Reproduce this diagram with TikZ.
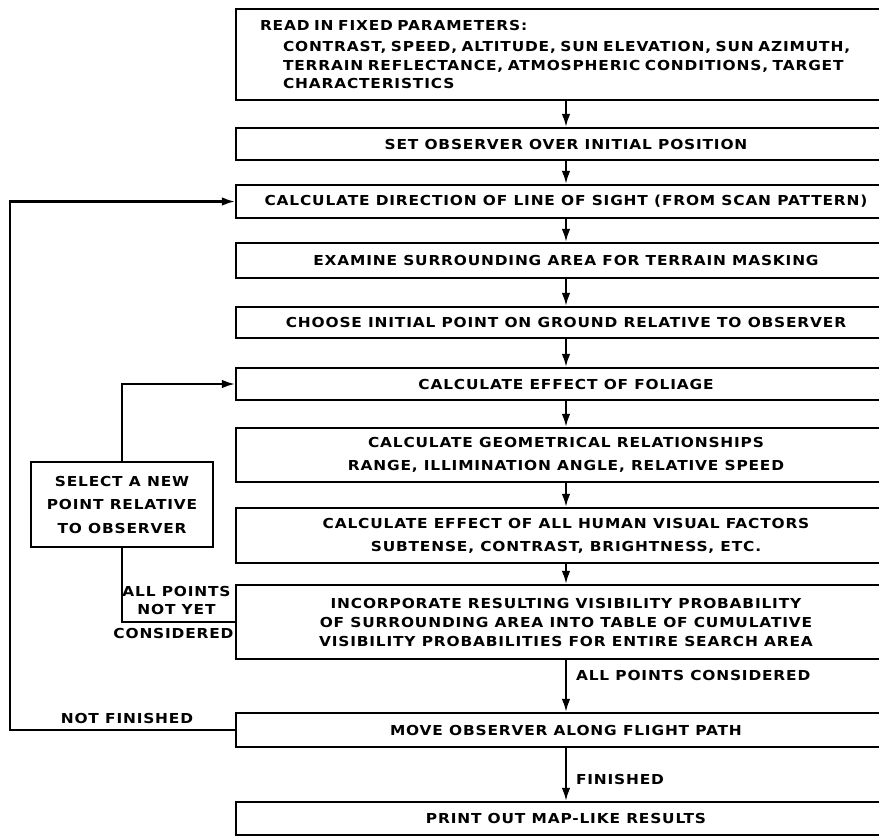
\documentclass[tikz,border=0pt]{standalone}
\usepackage{fontspec}
\setmainfont{DejaVu Sans}[LetterSpace=6,FakeStretch=1.12]
\usetikzlibrary{positioning,arrows.meta}

\tikzset{
  stage/.style={draw, line width=2.1pt, minimum width=660pt, align=center,
    inner sep=0pt, font=\bfseries\fontsize{13.75}{20}\selectfont},
  flow/.style={draw, line width=2.1pt, -{Latex[length=13pt,width=8.5pt]}},
  note/.style={inner sep=1pt, align=center, font=\bfseries\fontsize{13.75}{18}\selectfont}
}

\begin{document}
\begin{tikzpicture}[x=1pt,y=-1pt]
\useasboundingbox (0,0) rectangle (879,838);
\clip (0,0) rectangle (879,838);
\coordinate (outer) at (10,0);

\node[stage, minimum height=91pt, text width=612pt, align=left,
  font=\bfseries\fontsize{13.75}{18.5}\selectfont] (read) at (566,54.5)
  {\mbox{READ IN FIXED PARAMETERS:}\\[3pt]
   \mbox{\hspace*{23pt}CONTRAST, SPEED, ALTITUDE, SUN ELEVATION, SUN AZIMUTH,}\\
   \mbox{\hspace*{23pt}TERRAIN REFLECTANCE, ATMOSPHERIC CONDITIONS, TARGET}\\
   \mbox{\hspace*{23pt}CHARACTERISTICS}};
\node[stage, minimum height=32pt] (init) at (566,144) {SET OBSERVER OVER INITIAL POSITION};
\node[stage, minimum height=33pt] (sight) at (566,201.5) {CALCULATE DIRECTION OF LINE OF SIGHT (FROM SCAN PATTERN)};
\node[stage, minimum height=35pt] (mask) at (566,260.5) {EXAMINE SURROUNDING AREA FOR TERRAIN MASKING};
\node[stage, minimum height=31pt] (choose) at (566,322.5) {CHOOSE INITIAL POINT ON GROUND RELATIVE TO OBSERVER};
\node[stage, minimum height=32pt] (foliage) at (566,384) {CALCULATE EFFECT OF FOLIAGE};
\node[stage, minimum height=54pt] (geom) at (566,455)
  {CALCULATE GEOMETRICAL RELATIONSHIPS\\[3pt] RANGE, ILLIMINATION ANGLE, RELATIVE SPEED};
\node[stage, minimum height=55pt] (human) at (566,535.5)
  {CALCULATE EFFECT OF ALL HUMAN VISUAL FACTORS\\[3pt] SUBTENSE, CONTRAST, BRIGHTNESS, ETC.};
\node[stage, minimum height=74pt, font=\bfseries\fontsize{13.75}{19}\selectfont] (merge) at (566,622)
  {INCORPORATE RESULTING VISIBILITY PROBABILITY\\ OF SURROUNDING AREA INTO TABLE OF CUMULATIVE\\ VISIBILITY PROBABILITIES FOR ENTIRE SEARCH AREA};
\node[stage, minimum height=34pt] (move) at (566,730) {MOVE OBSERVER ALONG FLIGHT PATH};
\node[stage, minimum height=33pt] (print) at (566,818.5) {PRINT OUT MAP-LIKE RESULTS};

\node[stage, minimum width=182pt, minimum height=85pt, font=\bfseries\fontsize{13.75}{23.5}\selectfont] (select) at (122,504.5)
  {SELECT A NEW\\ POINT RELATIVE\\ TO OBSERVER};

% main flow
\path[flow] (read) -- (init);
\path[flow] (init) -- (sight);
\path[flow] (sight) -- (mask);
\path[flow] (mask) -- (choose);
\path[flow] (choose) -- (foliage);
\path[flow] (foliage) -- (geom);
\path[flow] (geom) -- (human);
\path[flow] (human) -- (merge);
\path[flow] (merge) -- node[note, right=8pt, pos=0.3] {ALL POINTS CONSIDERED} (move);
\path[flow] (move) -- node[note, right=8pt, pos=0.6] {FINISHED} (print);

% loops back
\path[draw, line width=2.1pt] (merge.west) -- node[note, above=5pt, xshift=-2pt] {ALL POINTS\\ NOT YET}
  node[note, below=4pt, xshift=-5pt] {CONSIDERED} (merge.west -| select.south) -- (select.south);
\path[flow] (select.north) |- (foliage.west);
\path[flow] (move.west) -- node[note, above=4pt, pos=0.48] {NOT FINISHED} (move.west -| outer) |- (sight.west);
\end{tikzpicture}
\end{document}
